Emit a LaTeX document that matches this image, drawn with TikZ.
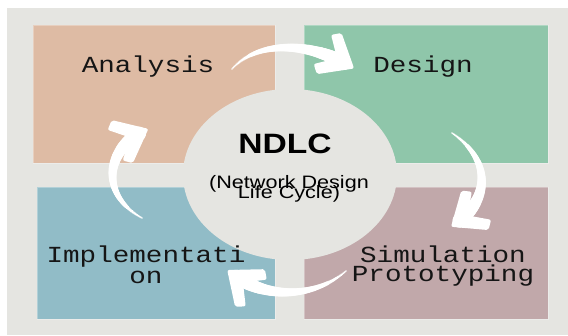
\documentclass[tikz,border=0pt]{standalone}
\usepackage{fontspec}
\newfontfamily\stagefont[FakeStretch=1.2]{Liberation Mono}
\newfontfamily\hubfont[FakeStretch=1.2]{Liberation Sans}
\usetikzlibrary{shapes.geometric,decorations.markings}

\definecolor{paper}{HTML}{E5E5E1}
\definecolor{peach}{HTML}{DEBBA4}
\definecolor{mint}{HTML}{8FC6AA}
\definecolor{steel}{HTML}{91BCC7}
\definecolor{mauve}{HTML}{C1A8AA}
\definecolor{ink}{HTML}{151515}

\tikzset{
  box/.style={rectangle, inner sep=0pt, draw=white, draw opacity=0.3, line width=0.8pt},
  stage/.style={font=\stagefont\fontsize{23}{20}\selectfont, text=ink, align=center, anchor=base},
  % tapered white stroke ending in a chevron head
  brush/.style={
    decoration={markings,
      mark=between positions 0 and 0.95 step 0.01 with {
        \pgfmathsetmacro\brushr{0.8+6.2*\pgfkeysvalueof{/pgf/decoration/mark info/sequence number}/95}
        \fill[white] (0pt,0pt) circle (\brushr pt);},
      mark=at position 0.999 with {
        \fill[white, rounded corners=2pt] (5pt,0pt) -- (-24pt,24pt) -- (-32pt,17pt) -- (-15pt,0pt)
          -- (-32pt,-17pt) -- (-24pt,-24pt) -- cycle;}},
    postaction={decorate}}
}

\begin{document}
\begin{tikzpicture}[x=1pt,y=-1pt]
    \useasboundingbox (0,0) rectangle (568,335);
    \fill[paper] (7,8) rectangle (568,335);

    % the four stages
    \node[box, fill=peach, minimum width=242pt, minimum height=138pt] (analysis) at (154,94) {};
    \node[box, fill=mint, minimum width=244pt, minimum height=138pt] (design) at (426,94) {};
    \node[box, fill=steel, minimum width=238pt, minimum height=132pt] (impl) at (156,253) {};
    \node[box, fill=mauve, minimum width=244pt, minimum height=132pt] (simul) at (426,253) {};

    % centre disc
    \node[ellipse, fill=paper, minimum width=214pt, minimum height=171pt, inner sep=0pt] (hub) at (290,174.5) {};
    \node[font=\hubfont\bfseries\fontsize{28}{28}\selectfont, anchor=base] (hub title) at (285,153) {NDLC};
    \node[font=\hubfont\fontsize{18}{18}\selectfont, align=center, anchor=base] (hub sub) at (289,198) {(Network Design\\[-8pt]Life Cycle)};

    % stage labels (base = last line)
    \node[stage] (analysis text) at (148,72) {Analysis};
    \node[stage] (design text) at (423,72) {Design};
    \node[stage, font=\stagefont\fontsize{23}{21}\selectfont] (impl text) at (146,283) {Implementati\\on};
    \node[stage, font=\stagefont\fontsize{23}{19}\selectfont] (simul text) at (443,281) {Simulation\\Prototyping};

    % cycle arrows
    \coordinate (a2d) at (232,69);  \coordinate (d-in) at (350,66);
    \coordinate (d2s) at (452,133); \coordinate (s-in) at (455,224);
    \coordinate (s2i) at (346,271); \coordinate (i-in) at (231,273);
    \coordinate (i2a) at (142,218); \coordinate (a-in) at (144,131);

    \path[brush] (a2d) .. controls (258,40) and (310,42) .. (d-in);
    \path[brush] (d2s) .. controls (492,160) and (490,200) .. (s-in);
    \path[brush] (s2i) .. controls (315,298) and (265,300) .. (i-in);
    \path[brush] (i2a) .. controls (100,195) and (105,150) .. (a-in);
\end{tikzpicture}
\end{document}
